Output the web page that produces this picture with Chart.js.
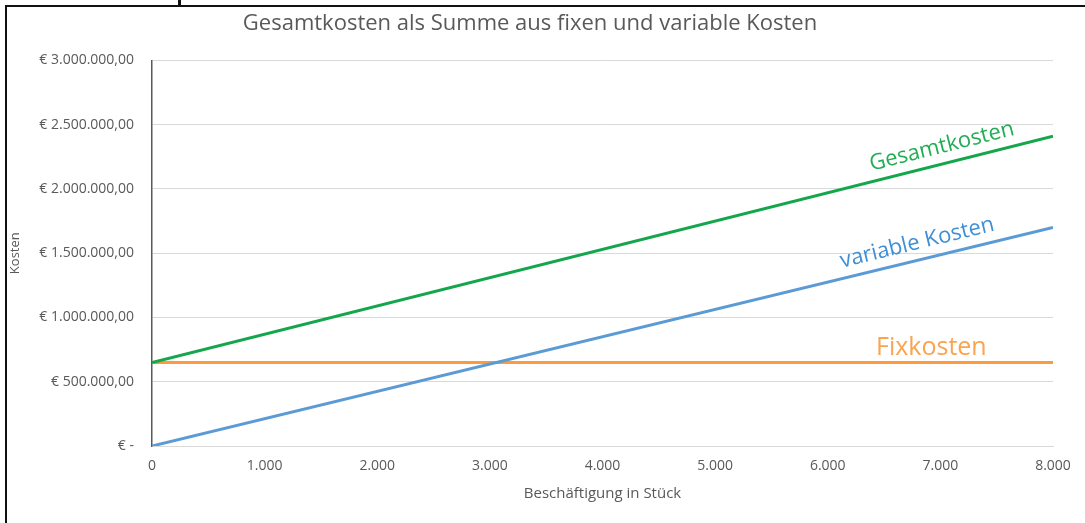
<!DOCTYPE html>
<html>
<head>
<meta charset="utf-8">
<script src="https://cdn.jsdelivr.net/npm/chart.js@4.4.0/dist/chart.umd.min.js"></script>
<style>
  body { margin: 0; background: #fff; }
  #frame { position: absolute; left: 5px; top: 5px; width: 1080px; height: 518px;
           border-left: 2px solid #111; border-top: 2px solid #111; }
  #tick { position: absolute; left: 178px; top: 0; width: 3px; height: 6px; background: #111; }
  #wrap { position: absolute; left: 7px; top: 7px; width: 1078px; height: 516px; }
</style>
</head>
<body>
<div id="tick"></div>
<div id="frame"></div>
<div id="wrap"><canvas id="myChart"></canvas></div>
<script>
// Stückzahlen (x) und Kosten in €
const stueck = [0, 8000];
const fixkosten = [650000, 650000];
const variableKosten = [0, 1700000];
const gesamtkosten = [650000, 2410000];

const seriesNames = ['Gesamtkosten', 'variable Kosten', 'Fixkosten'];
const yTicks = [0, 500000, 1000000, 1500000, 2000000, 2500000, 3000000];

function dotted(n) {
  return String(Math.round(n)).replace(/\B(?=(\d{3})+(?!\d))/g, '.');
}
function euro(v) {
  if (v === 0) return '€ -';
  return '€ ' + dotted(v) + ',00';
}

function points(ys) {
  let pts = [];
  for (let i = 0; i < stueck.length; i++) {
    pts.push({x: stueck[i], y: ys[i]});
  }
  return pts;
}

let green = '#14a64a';
let blue = '#5b9bd5';
let orange = '#fd9a3c';

// text labels written onto the lines
const lineLabels = {
  id: 'lineLabels',
  afterDatasetsDraw(chart) {
    const ctx = chart.ctx;
    const xs = chart.scales.x, ys = chart.scales.y;
    const setup = [
      {ds: 0, at: 7050, color: '#22ad55', size: 22, up: 6},
      {ds: 1, at: 6830, color: '#3f8fd6', size: 22, up: 6},
      {ds: 2, at: 6920, color: '#fba34e', size: 25, up: 2}
    ];
    setup.forEach(function(s) {
      const data = chart.data.datasets[s.ds].data;
      const p0 = data[0], p1 = data[data.length - 1];
      const x0 = xs.getPixelForValue(p0.x), y0 = ys.getPixelForValue(p0.y);
      const x1 = xs.getPixelForValue(p1.x), y1 = ys.getPixelForValue(p1.y);
      const t = (s.at - p0.x) / (p1.x - p0.x);
      const yv = p0.y + t * (p1.y - p0.y);
      const px = xs.getPixelForValue(s.at), py = ys.getPixelForValue(yv);
      const ang = Math.atan2(y1 - y0, x1 - x0);
      ctx.save();
      ctx.translate(px, py);
      ctx.rotate(ang);
      ctx.fillStyle = s.color;
      ctx.font = '500 ' + s.size + 'px "Open Sans", sans-serif';
      ctx.textAlign = 'center';
      ctx.textBaseline = 'bottom';
      ctx.fillText(chart.data.datasets[s.ds].label, 0, -s.up);
      ctx.restore();
    });
  }
};

const data = {
  datasets: [
    {label: seriesNames[0], data: points(gesamtkosten), borderColor: green, borderWidth: 3},
    {label: seriesNames[1], data: points(variableKosten), borderColor: blue, borderWidth: 3},
    {label: seriesNames[2], data: points(fixkosten), borderColor: orange, borderWidth: 3}
  ]
};

const config = {
  type: 'line',
  data: data,
  options: {
    responsive: true,
    maintainAspectRatio: false,
    animation: false,
    elements: { point: { radius: 0 }, line: { tension: 0 } },
    layout: { padding: { left: 0, right: 32, top: 0, bottom: 0 } },
    plugins: {
      legend: { display: false },
      tooltip: { enabled: false },
      title: {
        display: true,
        text: 'Gesamtkosten als Summe aus fixen und variable Kosten',
        color: '#595959',
        font: { family: '"Open Sans", sans-serif', size: 22, weight: 'normal' },
        padding: { top: 4, bottom: 23 }
      }
    },
    scales: {
      x: {
        type: 'linear',
        min: 0,
        max: 8000,
        ticks: {
          stepSize: 1000,
          color: '#595959',
          font: { family: '"Open Sans", sans-serif', size: 14 },
          padding: 12,
          callback: function(v) { return dotted(v); }
        },
        grid: { display: false, drawTicks: false },
        border: { display: true, color: '#d9d9d9', width: 1 },
        title: {
          display: true,
          text: 'Beschäftigung in Stück',
          color: '#595959',
          font: { family: '"Open Sans", sans-serif', size: 15 },
          padding: { top: 6, bottom: 20 }
        },
        afterFit: function(scale) { scale.height = 77; }
      },
      y: {
        min: 0,
        max: 3000000,
        afterBuildTicks: function(scale) {
          scale.ticks = yTicks.map(function(v) { return {value: v}; });
        },
        ticks: {
          color: '#595959',
          font: { family: '"Open Sans", sans-serif', size: 14 },
          padding: 18,
          callback: function(v) { return euro(v); }
        },
        grid: { color: '#d9d9d9', drawTicks: false },
        border: { display: true, color: '#595959', width: 1.5 },
        title: {
          display: true,
          text: 'Kosten',
          color: '#595959',
          font: { family: '"Open Sans", sans-serif', size: 13 },
          padding: 0
        },
        afterFit: function(scale) { scale.width = 145; }
      }
    }
  },
  plugins: [lineLabels]
};

var myChart = new Chart(document.getElementById('myChart'), config);
</script>
</body>
</html>
